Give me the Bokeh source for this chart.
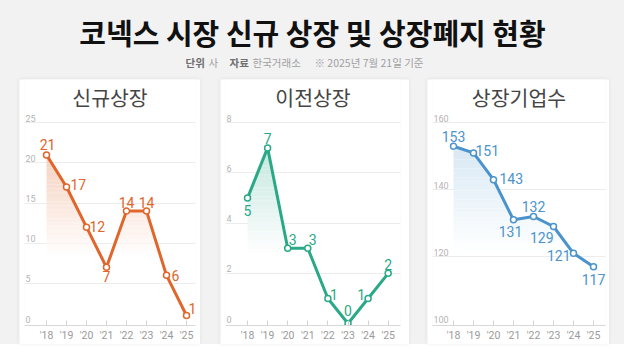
import numpy as np
from bokeh.plotting import figure
from bokeh.layouts import column, row
from bokeh.models import Range1d, FixedTicker, ColumnDataSource
from bokeh.core.properties import value, field
from bokeh.embed import file_html
from bokeh.resources import INLINE

# ---------------- data ----------------
years = ["'18", "'19", "'20", "'21", "'22", "'23", "'24", "'25"]
new_listings = [21, 17, 12, 7, 14, 14, 6, 1]
transfer_listings = [5, 7, 3, 3, 1, 0, 1, 2]
listed_companies = [153, 151, 143, 131, 132, 129, 121, 117]
ticks_new = [0, 5, 10, 15, 20, 25]
ticks_transfer = [0, 2, 4, 6, 8]
ticks_companies = [100, 120, 140, 160]

title_text = "코넥스 시장 신규 상장 및 상장폐지 현황"
panel_titles = ["신규상장", "이전상장", "상장기업수"]

# ---------------- styles ----------------
BG = "#f2f2f3"
ORANGE = "#e0662c"
GREEN = "#2aa987"
BLUE = "#4a93cc"
KR = "Noto Sans CJK KR"
NUM = "Roboto"

# label placement (align, dx, dy) per point
style_new = [("center", 1, -10), ("left", 4, -3), ("left", 3, -1), ("center", 0, 9),
             ("center", 0, -9), ("center", 0, -9), ("left", 5, 0), ("left", 2, -7)]
style_transfer = [("center", 0, 12), ("center", 0, -9), ("left", 1, -9), ("left", 1, -9),
                  ("left", 2, -4), ("center", 0, -13), ("right", -3, -4), ("center", 0, -9)]
style_companies = [("center", 0, -10), ("left", 2, -2), ("left", 6, -1), ("center", -3, 12),
                   ("center", 0, -10), ("right", 0, 11), ("right", -3, 2), ("center", 0, 13)]


def mix(hex_color, a):
    """blend colour with white at opacity a"""
    r, g, b = (int(hex_color[i:i + 2], 16) for i in (1, 3, 5))
    r = round(255 + (r - 255) * a)
    g = round(255 + (g - 255) * a)
    b = round(255 + (b - 255) * a)
    return "#%02x%02x%02x" % (r, g, b)


def band(xs, ys, lo, hi):
    """area between levels lo and hi that lies under the line"""
    px, py = [], []
    for i in range(len(xs)):
        if i > 0:
            a, b = ys[i - 1], ys[i]
            cross = []
            for t in (lo, hi):
                if (a - t) * (b - t) < 0:
                    cross.append(xs[i - 1] + (t - a) * (xs[i] - xs[i - 1]) / (b - a))
            for xc in sorted(cross):
                px.append(xc)
                py.append(a + (b - a) * (xc - xs[i - 1]) / (xs[i] - xs[i - 1]))
        px.append(xs[i])
        py.append(ys[i])
    py = np.array(py, dtype=float)
    return px, np.minimum(py, lo), np.minimum(py, hi)


def make_panel(title, vals, ticks, color, lstyle, W, first_px, step_px, bl, br, margin,
               top_alpha):
    H = 265
    BB = 15
    frame_bottom = H - BB
    zero_px = 248
    top_px = 44
    tmin, tmax = ticks[0], ticks[-1]
    ppu = (zero_px - top_px) / (tmax - tmin)
    y0 = tmin - (frame_bottom - zero_px) / ppu
    y1 = tmax + top_px / ppu
    n = len(vals)
    xs = list(range(n))
    fr = W - br
    x0 = -(first_px - bl) / step_px
    x1 = (n - 1) + (fr - (first_px + (n - 1) * step_px)) / step_px

    p = figure(width=W, height=H, x_range=Range1d(x0, x1), y_range=Range1d(y0, y1),
               output_backend="svg", toolbar_location=None, y_axis_location=None,
               min_border_left=bl, min_border_right=br, min_border_top=0,
               min_border_bottom=BB, background_fill_color="white",
               border_fill_color="white", outline_line_color=None, margin=margin,
               styles={"box-shadow": "0 0 4px rgba(0,0,0,0.07)"})
    p.xgrid.visible = False
    p.ygrid.ticker = FixedTicker(ticks=ticks[1:])
    p.ygrid.grid_line_color = "#ececec"
    p.ygrid.grid_line_width = 1

    ax = p.xaxis[0]
    ax.ticker = FixedTicker(ticks=xs)
    ax.major_label_overrides = {i: years[i] for i in xs}
    ax.major_tick_in = 5
    ax.major_tick_out = 0
    ax.minor_tick_line_color = None
    ax.major_tick_line_color = "#d4d4d4"
    ax.axis_line_color = "#d8d8d8"
    ax.major_label_text_font = NUM
    ax.major_label_text_font_size = "10.5px"
    ax.major_label_text_color = "#9a9a9a"
    ax.major_label_standoff = 3

    # gradient fill: disjoint horizontal bands, each a flat blended colour
    vmax = max(vals)
    fade_bottom = vmax - 0.6 * (vmax - tmin)
    N = 24
    for k in range(N):
        lo = fade_bottom + (vmax - fade_bottom) * k / N
        hi = fade_bottom + (vmax - fade_bottom) * (k + 1) / N
        if k == N - 1:
            hi = vmax + 1e-9
        bx, by1, by2 = band(xs, vals, lo, hi)
        c = mix(color, top_alpha * (k + 0.5) / N)
        p.varea(x=bx, y1=by1, y2=by2, fill_color=c, fill_alpha=1.0)

    p.line(xs, vals, line_color=color, line_width=3, line_join="round")
    p.scatter(xs, vals, size=6, fill_color="white", line_color=color, line_width=1.5)

    src = ColumnDataSource(dict(x=xs, y=vals, text=[str(v) for v in vals],
                                align=[s[0] for s in lstyle],
                                dx=[s[1] for s in lstyle],
                                dy=[s[2] for s in lstyle]))
    p.text(x="x", y="y", text="text", source=src, text_align=field("align"),
           text_baseline="middle", x_offset="dx", y_offset="dy",
           text_color=color, text_font=value(NUM), text_font_size="14px")

    # y tick labels (above grid lines, left aligned)
    p.text(x=[x0] * len(ticks), y=ticks, text=[str(t) for t in ticks],
           x_offset=1, y_offset=-1, text_align="left", text_baseline="bottom",
           text_color="#b4b4b4", text_font=value(NUM), text_font_size="9px")

    # panel title
    p.text(x=[(x0 + x1) / 2], y=[y1 - 18 / ppu], text=[title], text_align="center",
           text_baseline="middle", text_color="#454545", text_font=value(KR),
           text_font_size="20.5px")
    return p


# ---------------- header ----------------
hdr = figure(width=624, height=79, x_range=Range1d(0, 624), y_range=Range1d(79, 0),
             output_backend="svg", toolbar_location=None, x_axis_location=None,
             y_axis_location=None, min_border=0, background_fill_color=BG,
             border_fill_color=BG, outline_line_color=None)
hdr.grid.visible = False
hdr.text(x=[312], y=[31], text=[title_text], text_align="center", text_baseline="middle",
         text_color="#111111", text_font=value(KR), text_font_style="bold",
         text_font_size="29px")
sub_parts = ["단위", "사", "자료", "한국거래소", "※ 2025년 7월 21일 기준"]
sub_x = [185, 208, 229, 252, 314]
sub_bold = [True, False, True, False, False]
for txt, sx, b in zip(sub_parts, sub_x, sub_bold):
    hdr.text(x=[sx], y=[62], text=[txt], text_align="left", text_baseline="middle",
             text_color="#6f6f6f" if b else "#a0a0a0", text_font=value(KR),
             text_font_style="bold" if b else "normal", text_font_size="10.5px")

p1 = make_panel(panel_titles[0], new_listings, ticks_new, ORANGE, style_new,
                181, 27, 20.0, 5, 5, (0, 0, 0, 19), 0.3)
p2 = make_panel(panel_titles[1], transfer_listings, ticks_transfer, GREEN, style_transfer,
                189, 27, 20.1, 5, 9, (0, 0, 0, 20), 0.28)
p3 = make_panel(panel_titles[2], listed_companies, ticks_companies, BLUE, style_companies,
                182, 26, 20.0, 5, 4, (0, 15, 0, 18), 0.22)

body = row(p1, p2, p3, spacing=0, styles={"background-color": BG})
page = column(hdr, body, spacing=0, styles={"background-color": BG})

open("out.html", "w").write(file_html(page, INLINE))
